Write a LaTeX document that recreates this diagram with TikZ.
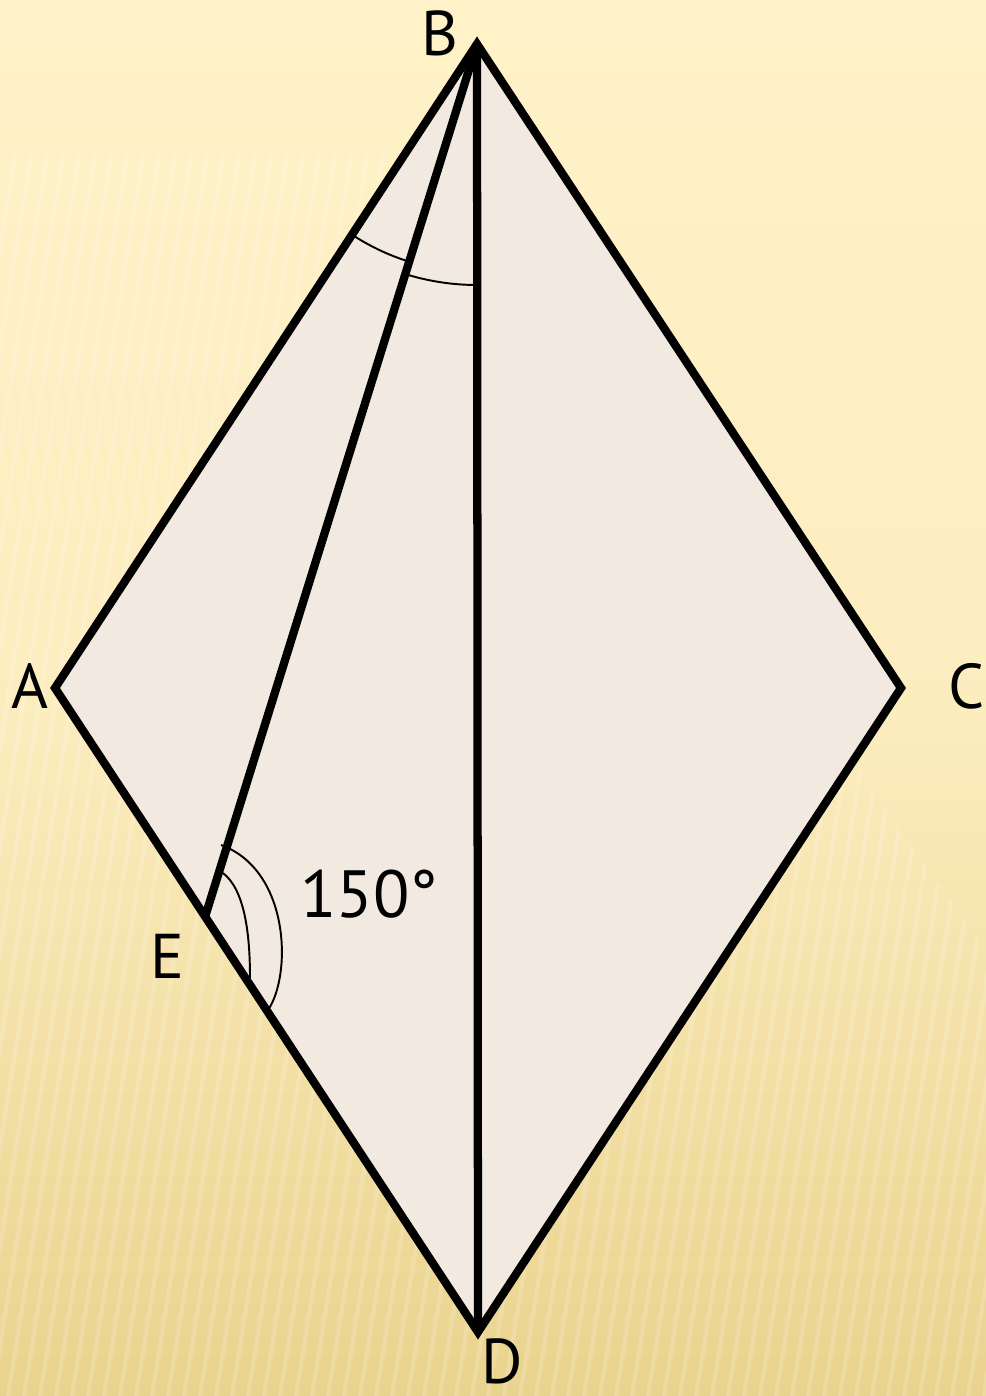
\documentclass[tikz,border=0pt]{standalone}
\usepackage{fontspec}
\setmainfont{PT Sans}
\usetikzlibrary{positioning,calc}
\definecolor{bgtop}{RGB}{255,242,200}
\definecolor{bgbot}{RGB}{234,211,142}
\definecolor{rhombfill}{RGB}{242,234,224}
\begin{document}
\begin{tikzpicture}[
    x=0.02cm, y=-0.02cm,
    side/.style={line width=4.7pt, line join=miter},
    anglemark/.style={line width=1.1pt},
    lbl/.style={font=\fontsize{36}{40}\selectfont, inner sep=0pt}
  ]
  % background
  \shade[top color=bgtop, bottom color=bgbot, middle color=bgtop!85!bgbot]
    (0,0) rectangle (986,1396);
  \useasboundingbox (0,0) rectangle (986,1396);
  \begin{scope}
    \clip (0,150) -- (420,150) -- (986,950) -- (986,1396) -- (0,1396) -- cycle;
    \foreach \s in {0,16,...,1200}
      \draw[white, opacity=0.17, line width=2.5pt] (\s-200,1396) -- (\s,150);
  \end{scope}

  % points
  \coordinate (B) at (477,44);
  \coordinate (A) at (55,688);
  \coordinate (C) at (901,688);
  \coordinate (D) at (478,1332);
  \coordinate (E) at (205,917);

  % rhombus and diagonals
  \fill[rhombfill] (A) -- (B) -- (C) -- (D) -- cycle;
  \draw[side] (B) -- (D);
  \draw[side] (B) -- (E);
  \draw[side] (A) -- (B) -- (C) -- (D) -- cycle;

  % angle marks at B
  \draw[anglemark] (B) ++(123.2:228) arc[start angle=123.2, end angle=107.3, radius=228];
  \draw[anglemark] (B) ++(107.3:241) arc[start angle=107.3, end angle=90, radius=241];

  % angle marks at E
  \draw[anglemark] (221,845) .. controls (290,870) and (292,975) .. (268,1010);
  \draw[anglemark] (223,873) .. controls (245,890) and (250,935) .. (250,978);

  % labels
  \node[lbl] (lB) at (440,33) {B};
  \node[lbl] (lA) at (30,686) {A};
  \node[lbl] (lC) at (967,686) {C};
  \node[lbl] (lD) at (502,1361) {D};
  \node[lbl] (lE) at (167,956) {E};
  \node[lbl, font=\fontsize{38}{42}\selectfont] (ang) at (369,894) {150°};
\end{tikzpicture}
\end{document}
